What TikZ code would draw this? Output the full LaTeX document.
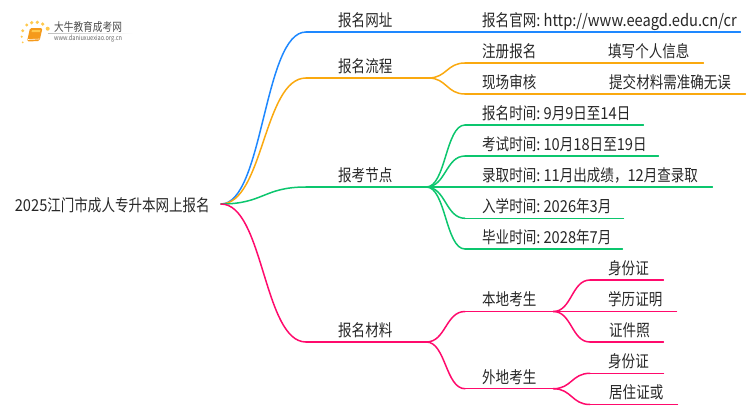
\documentclass[tikz,border=0pt]{standalone}
\usepackage{fontspec}
\setmainfont{Noto Sans CJK SC}[FakeStretch=0.82]
\newfontfamily\lat{Noto Sans CJK SC}[FakeStretch=0.89]
\newcommand{\la}[1]{{\lat #1}}
\newcommand{\co}{\la{:}\hspace{3.2pt}}
\usetikzlibrary{calc,fadings}
\tikzset{
  x=1pt,y=-1pt,
  lab/.style={font=\fontsize{16.5pt}{18pt}\selectfont,text=black!85},
  row/.style 2 args={lab,anchor=south west,inner sep=0pt,align=left,text width=#1 pt,
    text height=16pt,text depth=5.4pt,execute at begin node={\hspace*{#2pt}}},
  link/.style={line width=1.5pt,line cap=round,to path={.. controls
    ($(\tikztostart)!.5!(\tikztotarget |- \tikztostart)$) and
    ($(\tikztotarget)!.5!(\tikztostart |- \tikztotarget)$) .. (\tikztotarget)}},
  rule/.style={line width=1.5pt,line cap=round},
}
\definecolor{cblue}{HTML}{1E88FF}
\definecolor{corange}{HTML}{FAA90F}
\definecolor{cgreen}{HTML}{0CC66E}
\definecolor{cpink}{HTML}{FF0A6C}
\definecolor{logoA}{HTML}{FFC94D}
\definecolor{logoB}{HTML}{F59A1B}
\begin{document}
\begin{tikzpicture}
\useasboundingbox (0,0) rectangle (750,410);
% logo
\foreach \px/\py/\r in {22.7/30.7/1.6,26.7/25/1.6,31.7/22.7/1.8,37.3/22.3/1.8,42.7/24/1.8,47.7/28.7/2,21.7/36.7/1.2,22.7/42.3/1}
  \fill[logoA] (\px,\py) circle[radius=\r];
\fill[logoB,rounded corners=1.5pt] (30,28) -- (42.5,28) -- (39.5,41) -- (27,41.5) -- cycle;
\fill[logoA] (32,30) -- (40.5,30) -- (39.8,32) -- (31.5,32) -- cycle;
\draw[white,line width=.6pt] (28,39.5) -- (39.5,39);
\node[inner sep=0pt,anchor=west,font=\fontsize{11.8pt}{12pt}\selectfont,text=black!70] (logoname) at (54,27) {大牛教育成考网};
\node[inner sep=0pt,anchor=west,font=\fontsize{6.85pt}{7pt}\selectfont,text=black!60] (logourl) at (54,38.5) {www.daniuxuexiao.org.cn};
\fill[black!25,path fading=east] (48,33) rectangle (133,33.6);

% root
\node[lab,inner sep=0pt,anchor=east,text width=206pt,align=left] (root) at (221,205.5) {\la{2025}江门市成人专升本网上报名};
\coordinate (r) at (221,204);

% level 1
\node[row={159}{32}] (web) at (306,32) {报名网址};
\node[row={275}{17}] (site) at (465,32) {报名官网\co\la{http://www.eeagd.edu.cn/cr}};
\node[row={122}{32}] (flow) at (306,78) {报名流程};
\node[row={120}{32}] (node3) at (306,187) {报考节点};
\node[row={120}{32}] (mat) at (306,342) {报名材料};

% flow
\node[row={125}{17}] (reg) at (465,63) {注册报名};
\node[row={113}{18}] (fill) at (590,63) {填写个人信息};
\node[row={125}{17}] (check) at (465,94) {现场审核};
\node[row={155}{19}] (submit) at (590,94) {提交材料需准确无误};

% timeline
\node[row={178}{17}] (t1) at (465,125) {报名时间\co\la{9}月\la{9}日至\la{14}日};
\node[row={193}{17}] (t2) at (465,156) {考试时间\co\la{10}月\la{18}日至\la{19}日};
\node[row={247}{17}] (t3) at (465,187) {录取时间\co\la{11}月出成绩，\la{12}月查录取};
\node[row={158}{17}] (t4) at (465,218.3) {入学时间\co\la{2026}年\la{3}月};
\node[row={157}{17}] (t5) at (465,249) {毕业时间\co\la{2028}年\la{7}月};

% materials
\node[row={88}{17}] (local) at (465,311.5) {本地考生};
\node[row={73}{18}] (a1) at (590,280) {身份证};
\node[row={86}{18}] (a2) at (590,311.5) {学历证明};
\node[row={73}{19}] (a3) at (590,342) {证件照};
\node[row={88}{17}] (other) at (465,388.7) {外地考生};
\node[row={73}{18}] (b1) at (590,373.3) {身份证};
\node[row={87}{19}] (b2) at (590,404.5) {居住证或};

% connectors
\draw[rule,cblue] (web.south west) -- (site.south east);
\draw[link,cblue] (r) to (web.south west);

\draw[rule,corange] (flow.south west) -- (flow.south east);
\draw[rule,corange] (reg.south west) -- (fill.south east);
\draw[rule,corange] (check.south west) -- (submit.south east);
\draw[link,corange] (r) to (flow.south west);
\draw[link,corange] (flow.south east) to (reg.south west);
\draw[link,corange] (flow.south east) to (check.south west);

\draw[rule,cgreen] (node3.south west) -- (node3.south east);
\foreach \t in {t1,t2,t3,t4,t5}{
  \draw[rule,cgreen] (\t.south west) -- (\t.south east);
  \draw[link,cgreen] (node3.south east) to (\t.south west);
}
\draw[link,cgreen] (r) to (node3.south west);

\draw[rule,cpink] (mat.south west) -- (mat.south east);
\draw[rule,cpink] (local.south west) -- (local.south east);
\draw[rule,cpink] (other.south west) -- (other.south east);
\foreach \t in {a1,a2,a3,b1,b2}
  \draw[rule,cpink] (\t.south west) -- (\t.south east);
\draw[link,cpink] (r) to (mat.south west);
\draw[link,cpink] (mat.south east) to (local.south west);
\draw[link,cpink] (mat.south east) to (other.south west);
\foreach \t in {a1,a2,a3}
  \draw[link,cpink] (local.south east) to (\t.south west);
\foreach \t in {b1,b2}
  \draw[link,cpink] (other.south east) to (\t.south west);
\end{tikzpicture}
\end{document}
